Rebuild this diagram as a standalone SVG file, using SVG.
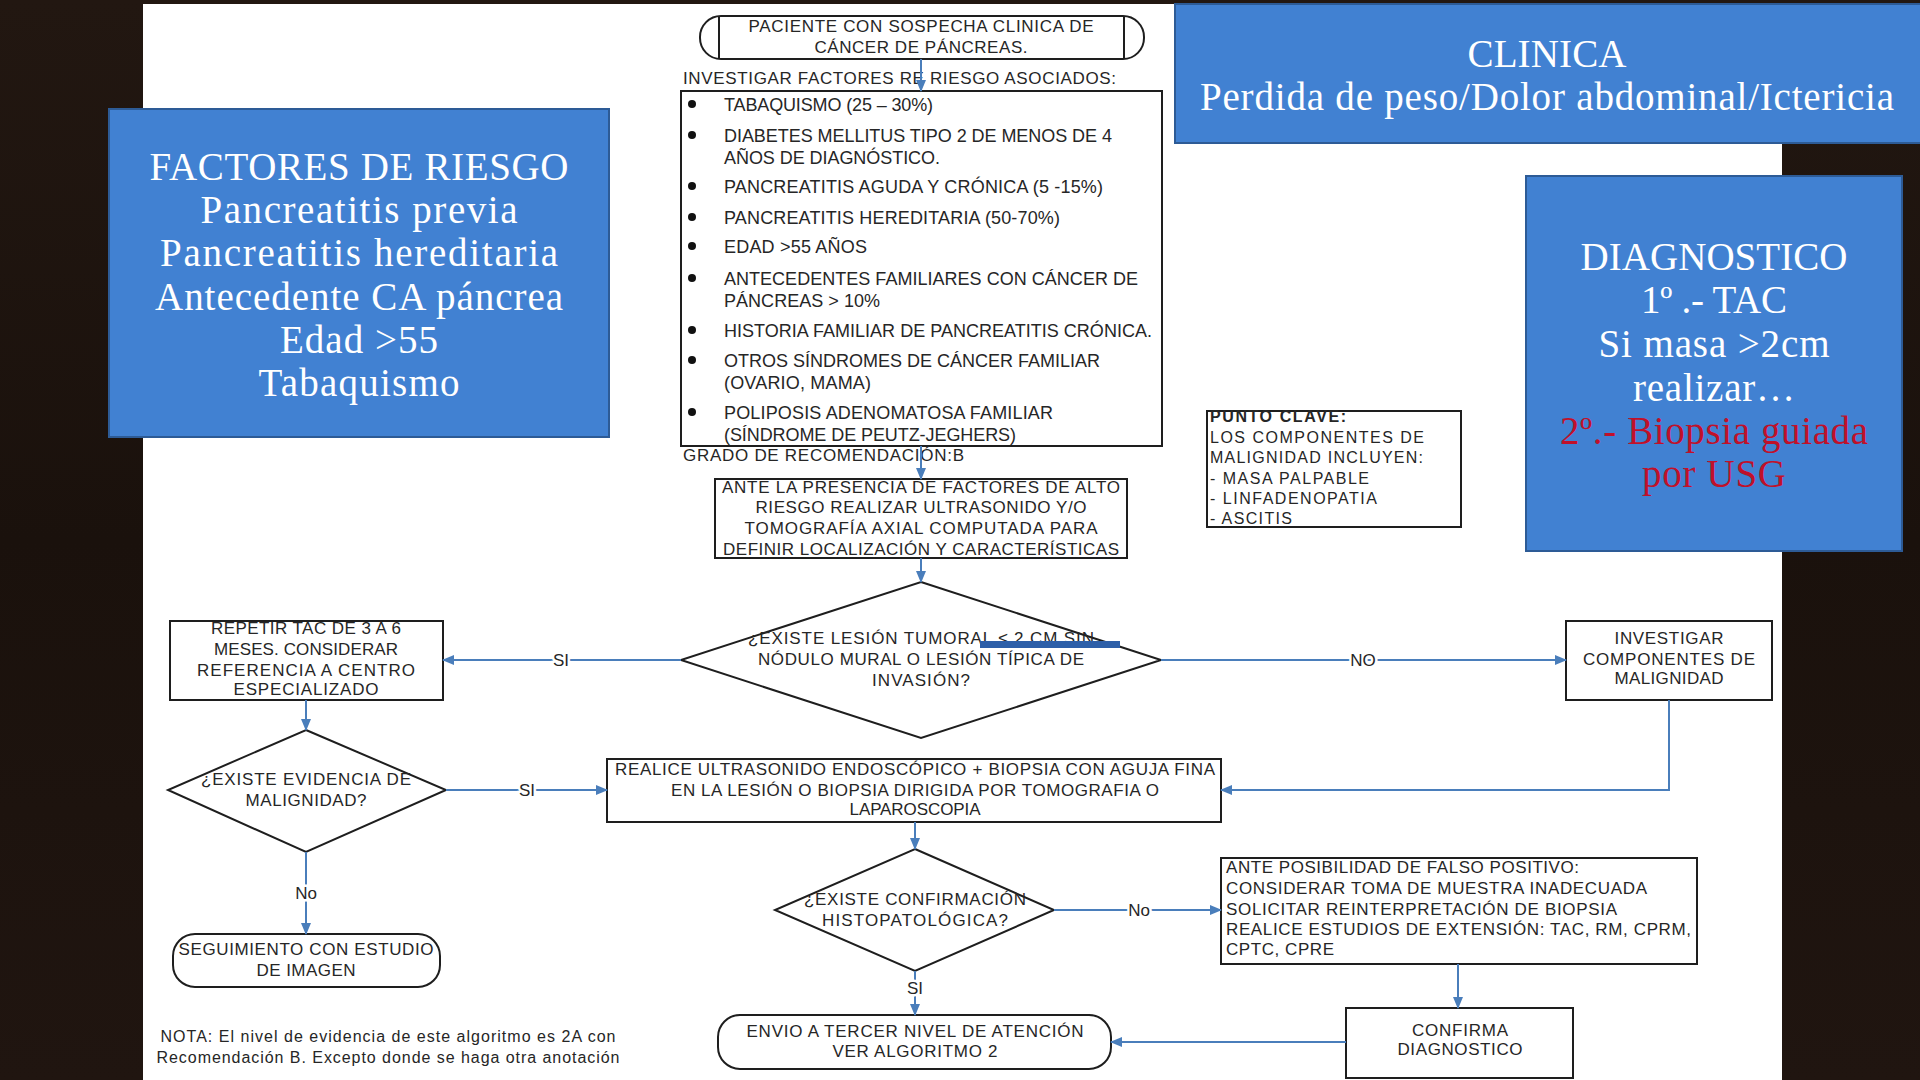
<svg xmlns="http://www.w3.org/2000/svg" width="1920" height="1080" viewBox="0 0 1920 1080">
<defs>
<linearGradient id="wood" x1="0" y1="0" x2="0" y2="1">
<stop offset="0" stop-color="#221711"/><stop offset="0.5" stop-color="#1a110c"/><stop offset="1" stop-color="#201510"/>
</linearGradient>
<marker id="ah" markerUnits="userSpaceOnUse" markerWidth="12" markerHeight="10" refX="11" refY="5" orient="auto">
<path d="M0,0 L12,5 L0,10 Z" fill="#4a7ebb"/>
</marker>
<style>
.n{fill:#fff;stroke:#1e1e1e;stroke-width:2}
.t{font-family:"Liberation Sans",Arial,sans-serif;font-size:17px;fill:#262626}
.m{text-anchor:middle}
.c{fill:none;stroke:#4a7ebb;stroke-width:2;marker-end:url(#ah)}
.b{fill:#4181d2;stroke:#2d5b96;stroke-width:2}
.s{font-family:"Liberation Serif","Times New Roman",serif;font-size:39px;fill:#fff;text-anchor:middle}
.r{fill:#c0102a}
.lb{font-family:"Liberation Sans",Arial,sans-serif;font-size:17px;fill:#262626;text-anchor:middle;paint-order:stroke;stroke:#fff;stroke-width:5px}
</style>
</defs>
<rect x="0" y="0" width="1920" height="1080" fill="url(#wood)"/>
<rect x="143" y="4" width="1639" height="1076" fill="#fff"/>

<g id="clinica">
<rect class="b" x="1175" y="4" width="750" height="139"/>
<text class="s" x="1547" y="67" textLength="159">CLINICA</text>
<text class="s" x="1547" y="110" textLength="694">Perdida de peso/Dolor abdominal/Ictericia</text>
</g>

<g id="factores">
<rect class="b" x="109" y="109" width="500" height="328"/>
<text class="s" x="359" y="180" textLength="419">FACTORES DE RIESGO</text>
<text class="s" x="359" y="223" textLength="317">Pancreatitis previa</text>
<text class="s" x="359" y="266" textLength="398">Pancreatitis hereditaria</text>
<text class="s" x="359" y="310" textLength="408">Antecedente CA páncrea</text>
<text class="s" x="359" y="353" textLength="158">Edad &gt;55</text>
<text class="s" x="359" y="396" textLength="201">Tabaquismo</text>
</g>

<g id="diagnostico">
<rect class="b" x="1526" y="176" width="376" height="375"/>
<text class="s" x="1714" y="270" textLength="267">DIAGNOSTICO</text>
<text class="s" x="1714" y="313" textLength="146">1º .- TAC</text>
<text class="s" x="1714" y="357" textLength="231">Si masa &gt;2cm</text>
<text class="s" x="1714" y="401" textLength="162">realizar…</text>
<text class="s r" x="1714" y="444" textLength="308">2º.- Biopsia guiada</text>
<text class="s r" x="1714" y="487" textLength="144">por USG</text>
</g>

<g id="inicio">
<rect class="n" x="700" y="16" width="444" height="43" rx="21"/>
<line x1="719" y1="16" x2="719" y2="59" stroke="#1e1e1e" stroke-width="2"/>
<line x1="1124" y1="16" x2="1124" y2="59" stroke="#1e1e1e" stroke-width="2"/>
<text class="t m" x="921" y="32" textLength="345">PACIENTE CON SOSPECHA CLINICA DE</text>
<text class="t m" x="921" y="53" textLength="213">CÁNCER DE PÁNCREAS.</text>
</g>

<g id="factores-lista">
<text class="t" x="683" y="84" textLength="433">INVESTIGAR FACTORES RE RIESGO ASOCIADOS:</text>
<rect class="n" x="681" y="91" width="481" height="355"/>
<g fill="#111">
<circle cx="692" cy="104" r="4"/><circle cx="692" cy="135" r="4"/><circle cx="692" cy="186" r="4"/><circle cx="692" cy="217" r="4"/><circle cx="692" cy="246" r="4"/><circle cx="692" cy="278" r="4"/><circle cx="692" cy="330" r="4"/><circle cx="692" cy="360" r="4"/><circle cx="692" cy="412" r="4"/>
</g>
<g class="t" style="font-size:18px">
<text x="724" y="111" textLength="209">TABAQUISMO (25 – 30%)</text>
<text x="724" y="142" textLength="388">DIABETES MELLITUS TIPO 2 DE MENOS DE 4</text>
<text x="724" y="164" textLength="216">AÑOS DE DIAGNÓSTICO.</text>
<text x="724" y="193" textLength="379">PANCREATITIS AGUDA Y CRÓNICA (5 -15%)</text>
<text x="724" y="224" textLength="336">PANCREATITIS HEREDITARIA (50-70%)</text>
<text x="724" y="253" textLength="143">EDAD &gt;55 AÑOS</text>
<text x="724" y="285" textLength="414">ANTECEDENTES FAMILIARES CON CÁNCER DE</text>
<text x="724" y="307" textLength="156">PÁNCREAS &gt; 10%</text>
<text x="724" y="337" textLength="428">HISTORIA FAMILIAR DE PANCREATITIS CRÓNICA.</text>
<text x="724" y="367" textLength="376">OTROS SÍNDROMES DE CÁNCER FAMILIAR</text>
<text x="724" y="389" textLength="147">(OVARIO, MAMA)</text>
<text x="724" y="419" textLength="329">POLIPOSIS ADENOMATOSA FAMILIAR</text>
<text x="724" y="441" textLength="292">(SÍNDROME DE PEUTZ-JEGHERS)</text>
</g>
<text class="t" x="683" y="461" textLength="281">GRADO DE RECOMENDACIÓN:B</text>
</g>

<g id="punto-clave">
<rect class="n" x="1207" y="411" width="254" height="116"/>
<text class="t" x="1210" y="422" style="font-weight:bold;font-size:16px" textLength="136">PUNTO CLAVE:</text>
<text class="t" x="1210" y="443" style="font-size:16px" textLength="214">LOS COMPONENTES DE</text>
<text class="t" x="1210" y="463" style="font-size:16px" textLength="213">MALIGNIDAD INCLUYEN:</text>
<text class="t" x="1210" y="484" style="font-size:16px" textLength="159">- MASA PALPABLE</text>
<text class="t" x="1210" y="504" style="font-size:16px" textLength="167">- LINFADENOPATIA</text>
<text class="t" x="1210" y="524" style="font-size:16px" textLength="82">- ASCITIS</text>
</g>

<g id="ultrasonido">
<rect class="n" x="715" y="479" width="412" height="79"/>
<text class="t m" x="921" y="493" textLength="398">ANTE LA PRESENCIA DE FACTORES DE ALTO</text>
<text class="t m" x="921" y="513" textLength="331">RIESGO REALIZAR ULTRASONIDO Y/O</text>
<text class="t m" x="921" y="534" textLength="353">TOMOGRAFÍA AXIAL COMPUTADA PARA</text>
<text class="t m" x="921" y="555" textLength="396">DEFINIR LOCALIZACIÓN Y CARACTERÍSTICAS</text>
</g>

<g id="decision-lesion">
<polygon class="n" points="921,582 1161,660 921,738 681,660"/>
<text class="t m" x="921" y="644" textLength="346">¿EXISTE LESIÓN TUMORAL ≤ 2 CM SIN</text>
<text class="t m" x="921" y="665" textLength="326">NÓDULO MURAL O LESIÓN TÍPICA DE</text>
<text class="t m" x="921" y="686" textLength="98">INVASIÓN?</text>
<rect x="980" y="641" width="140" height="7" fill="#2d5fa8"/>
</g>

<g id="repetir-tac">
<rect class="n" x="170" y="621" width="273" height="79"/>
<text class="t m" x="306" y="634" textLength="190">REPETIR TAC DE 3 A 6</text>
<text class="t m" x="306" y="655" textLength="184">MESES. CONSIDERAR</text>
<text class="t m" x="306" y="676" textLength="218">REFERENCIA A CENTRO</text>
<text class="t m" x="306" y="695" textLength="145">ESPECIALIZADO</text>
</g>

<g id="investigar-componentes">
<rect class="n" x="1566" y="621" width="206" height="79"/>
<text class="t m" x="1669" y="644" textLength="109">INVESTIGAR</text>
<text class="t m" x="1669" y="665" textLength="172">COMPONENTES DE</text>
<text class="t m" x="1669" y="684" textLength="109">MALIGNIDAD</text>
</g>

<g id="decision-malignidad">
<polygon class="n" points="306,730 446,790 306,852 168,790"/>
<text class="t m" x="306" y="785" textLength="210">¿EXISTE EVIDENCIA DE</text>
<text class="t m" x="306" y="806" textLength="121">MALIGNIDAD?</text>
</g>

<g id="biopsia">
<rect class="n" x="607" y="759" width="614" height="63"/>
<text class="t m" x="915" y="775" textLength="600">REALICE ULTRASONIDO ENDOSCÓPICO + BIOPSIA CON AGUJA FINA</text>
<text class="t m" x="915" y="796" textLength="488">EN LA LESIÓN O BIOPSIA DIRIGIDA POR TOMOGRAFIA O</text>
<text class="t m" x="915" y="815" textLength="131">LAPAROSCOPIA</text>
</g>

<g id="decision-histo">
<polygon class="n" points="915,849 1054,910 915,971 775,910"/>
<text class="t m" x="915" y="905" textLength="222">¿EXISTE CONFIRMACIÓN</text>
<text class="t m" x="915" y="926" textLength="186">HISTOPATOLÓGICA?</text>
</g>

<g id="falso-positivo">
<rect class="n" x="1221" y="858" width="476" height="106"/>
<text class="t" x="1226" y="873" textLength="353">ANTE POSIBILIDAD DE FALSO POSITIVO:</text>
<text class="t" x="1226" y="894" textLength="421">CONSIDERAR TOMA DE MUESTRA INADECUADA</text>
<text class="t" x="1226" y="915" textLength="391">SOLICITAR REINTERPRETACIÓN DE BIOPSIA</text>
<text class="t" x="1226" y="935" textLength="465">REALICE ESTUDIOS DE EXTENSIÓN: TAC, RM, CPRM,</text>
<text class="t" x="1226" y="955" textLength="108">CPTC, CPRE</text>
</g>

<g id="confirma">
<rect class="n" x="1346" y="1008" width="227" height="70"/>
<text class="t m" x="1460" y="1036" textLength="96">CONFIRMA</text>
<text class="t m" x="1460" y="1055" textLength="125">DIAGNOSTICO</text>
</g>

<g id="envio">
<rect class="n" x="718" y="1015" width="393" height="54" rx="22"/>
<text class="t m" x="915" y="1037" textLength="337">ENVIO A TERCER NIVEL DE ATENCIÓN</text>
<text class="t m" x="915" y="1057" textLength="165">VER ALGORITMO 2</text>
</g>

<g id="seguimiento">
<rect class="n" x="173" y="934" width="267" height="53" rx="22"/>
<text class="t m" x="306" y="955" textLength="255">SEGUIMIENTO CON ESTUDIO</text>
<text class="t m" x="306" y="976" textLength="99">DE IMAGEN</text>
</g>

<g id="nota">
<text class="t m" x="388" y="1042" style="font-size:16px" textLength="455">NOTA: El nivel de evidencia de este algoritmo es 2A con</text>
<text class="t m" x="388" y="1063" style="font-size:16px" textLength="463">Recomendación B. Excepto donde se haga otra anotación</text>
</g>

<g id="connectors">
<path class="c" d="M921,59 V91"/>
<path class="c" d="M921,446 V479"/>
<path class="c" d="M921,558 V582"/>
<path class="c" d="M681,660 H443"/>
<path class="c" d="M1161,660 H1566"/>
<path class="c" d="M306,700 V730"/>
<path class="c" d="M446,790 H607"/>
<path class="c" d="M1669,700 V790 H1221"/>
<path class="c" d="M915,822 V849"/>
<path class="c" d="M1054,910 H1221"/>
<path class="c" d="M1458,964 V1008"/>
<path class="c" d="M1346,1042 H1111"/>
<path class="c" d="M915,971 V1015"/>
<path class="c" d="M306,852 V934"/>
<text class="lb" x="561" y="666">SI</text>
<text class="lb" x="1363" y="666">NO</text>
<text class="lb" x="527" y="796">SI</text>
<text class="lb" x="1139" y="916">No</text>
<text class="lb" x="915" y="994">SI</text>
<text class="lb" x="306" y="899">No</text>
</g>
</svg>
